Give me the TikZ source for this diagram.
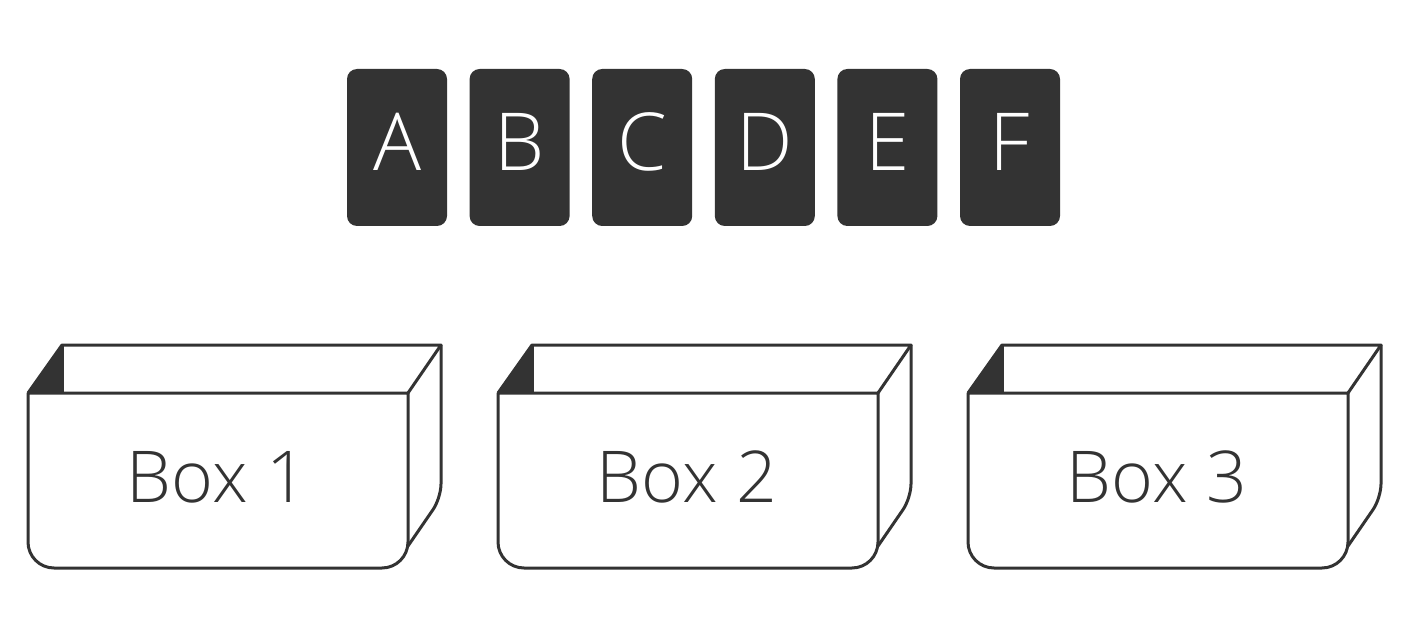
\documentclass[tikz,border=0pt]{standalone}
\usepackage{fontspec}
\setmainfont{Open Sans}[UprightFont=* Light]
\definecolor{ink}{HTML}{333333}
\begin{document}
\begin{tikzpicture}[x=1pt,y=-1pt,
  card/.style={fill=ink,rounded corners=10pt,minimum width=100pt,minimum height=157pt,inner sep=0pt},
  cardtext/.style={text=white,font=\fontsize{80}{80}\selectfont,inner sep=0pt},
  boxline/.style={draw=ink,line width=3pt,line join=round},
  boxlabel/.style={text=ink,font=\fontsize{71.5}{72}\selectfont,inner sep=0pt}]
\useasboundingbox (0,0) rectangle (1416,620);
\foreach \l [count=\i from 0] in {A,B,C,D,E,F}{
  \node[card] (c\l) at ({397+122.6*\i},147.5) {};
  \node[cardtext] (t\l) at ([yshift=6pt]c\l.center) {\l};}
\foreach \n [count=\i from 0] in {1,2,3}{
  \begin{scope}[xshift={470*\i}]
    \fill[ink] (28,393) -- (62,345) -- (62,393) -- cycle;
    \draw[boxline] (28,393) -- (28,500) [rounded corners=26pt] -- (28,568) -- (408,568) -- (408,500) [sharp corners] -- (408,393) -- cycle;
    \draw[boxline] (28,393) -- (62,345) -- (441,345) -- (408,393);
    \draw[boxline] (62,345) -- (62,393);
    \draw[boxline] (441,345) [rounded corners=14pt] -- (441,498) -- (408,546);
    \node[boxlabel] (b\n) at (217,477) {Box \n};
  \end{scope}}
\end{tikzpicture}
\end{document}
